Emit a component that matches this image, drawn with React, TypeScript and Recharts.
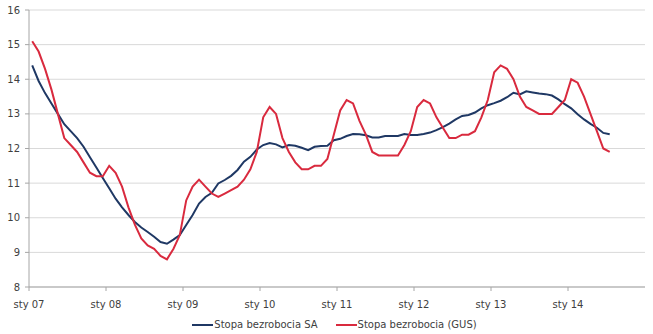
import React from 'react';
import { LineChart, Line, XAxis, YAxis, CartesianGrid, Legend } from 'recharts';

// monthly, sty 07 .. lip 14
const startYear = 2007;
const yearLabels = ['sty 07', 'sty 08', 'sty 09', 'sty 10', 'sty 11', 'sty 12', 'sty 13', 'sty 14'];
const yTicks = [8, 9, 10, 11, 12, 13, 14, 15, 16];

const stopaSA = [
  14.4, 13.95, 13.6, 13.3, 13.0, 12.7, 12.5, 12.3, 12.05, 11.75, 11.45, 11.15,
  10.85, 10.55, 10.3, 10.08, 9.88, 9.72, 9.59, 9.45, 9.3, 9.25, 9.37, 9.5,
  9.79, 10.08, 10.41, 10.6, 10.72, 10.99, 11.09, 11.21, 11.38, 11.62, 11.76, 11.97,
  12.1, 12.16, 12.12, 12.03, 12.1, 12.08, 12.02, 11.95, 12.05, 12.07, 12.08, 12.24,
  12.28, 12.36, 12.42, 12.41, 12.38, 12.32, 12.32, 12.36, 12.36, 12.36, 12.42, 12.39,
  12.39, 12.42, 12.46, 12.53, 12.62, 12.72, 12.84, 12.94, 12.97, 13.04, 13.16, 13.25,
  13.31, 13.38, 13.48, 13.61, 13.56, 13.65, 13.62, 13.59, 13.57, 13.53, 13.42, 13.28,
  13.16, 12.99, 12.84, 12.71, 12.6, 12.45, 12.41,
];

const stopaGUS = [
  15.1, 14.8, 14.3, 13.7, 13.0, 12.3, 12.1, 11.9, 11.6, 11.3, 11.2, 11.2,
  11.5, 11.3, 10.9, 10.3, 9.8, 9.4, 9.2, 9.1, 8.9, 8.8, 9.1, 9.5,
  10.5, 10.9, 11.1, 10.9, 10.7, 10.6, 10.7, 10.8, 10.9, 11.1, 11.4, 11.9,
  12.9, 13.2, 13.0, 12.3, 11.9, 11.6, 11.4, 11.4, 11.5, 11.5, 11.7, 12.4,
  13.1, 13.4, 13.3, 12.8, 12.4, 11.9, 11.8, 11.8, 11.8, 11.8, 12.1, 12.5,
  13.2, 13.4, 13.3, 12.9, 12.6, 12.3, 12.3, 12.4, 12.4, 12.5, 12.9, 13.4,
  14.2, 14.4, 14.3, 14.0, 13.5, 13.2, 13.1, 13.0, 13.0, 13.0, 13.2, 13.4,
  14.0, 13.9, 13.5, 13.0, 12.5, 12.0, 11.9,
];

const SA_COLOR = '#1f3864';
const GUS_COLOR = '#d92a3e';
const FONT = '"DejaVu Sans", Verdana, sans-serif';

// x = month index + 0.5 so points sit between the year ticks (Excel style)
const data = stopaSA.map((v, i) => ({
  x: i + 0.5,
  month: `${startYear + Math.floor(i / 12)}-${(i % 12) + 1}`,
  sa: v,
  gus: stopaGUS[i],
}));

const xTicks = yearLabels.map((_, i) => i * 12);

function ChartLegend() {
  const items = [
    { name: 'Stopa bezrobocia SA', color: SA_COLOR },
    { name: 'Stopa bezrobocia (GUS)', color: GUS_COLOR },
  ];
  return (
    <div style={{ display: 'flex', justifyContent: 'center', height: 17, alignItems: 'center', paddingLeft: 42 }}>
      {items.map(it => (
        <div key={it.name} style={{ display: 'flex', alignItems: 'center', marginRight: 18 }}>
          <span style={{ display: 'inline-block', width: 21, height: 2, background: it.color, marginRight: 1 }} />
          <span style={{ fontFamily: FONT, fontSize: 10, color: '#404040' }}>{it.name}</span>
        </div>
      ))}
    </div>
  );
}

export default function App() {
  return (
    <div style={{ position: 'absolute', left: 0, top: 0, width: 653, height: 334, background: '#fff' }}>
      <LineChart width={653} height={334} data={data} margin={{ top: 10, right: 8, bottom: 1, left: 0 }}>
        <CartesianGrid stroke="#d9d9d9" vertical={false} />
        <XAxis
          type="number"
          dataKey="x"
          domain={[0, 96]}
          ticks={xTicks}
          tickFormatter={(v: number) => yearLabels[v / 12] ?? ''}
          interval={0}
          height={29}
          stroke="#a6a6a6"
          tickSize={4}
          tickMargin={10}
          tick={{ fill: '#404040', fontSize: 10, fontFamily: FONT }}
        />
        <YAxis
          domain={[8, 16]}
          ticks={yTicks}
          width={29}
          stroke="#a6a6a6"
          tickSize={4}
          tickMargin={5}
          tick={{ fill: '#404040', fontSize: 10, fontFamily: FONT }}
        />
        <Legend verticalAlign="bottom" content={() => <ChartLegend />} />
        <Line
          type="linear"
          dataKey="sa"
          name="Stopa bezrobocia SA"
          stroke={SA_COLOR}
          strokeWidth={2}
          dot={false}
          isAnimationActive={false}
        />
        <Line
          type="linear"
          dataKey="gus"
          name="Stopa bezrobocia (GUS)"
          stroke={GUS_COLOR}
          strokeWidth={2}
          dot={false}
          isAnimationActive={false}
        />
      </LineChart>
    </div>
  );
}
